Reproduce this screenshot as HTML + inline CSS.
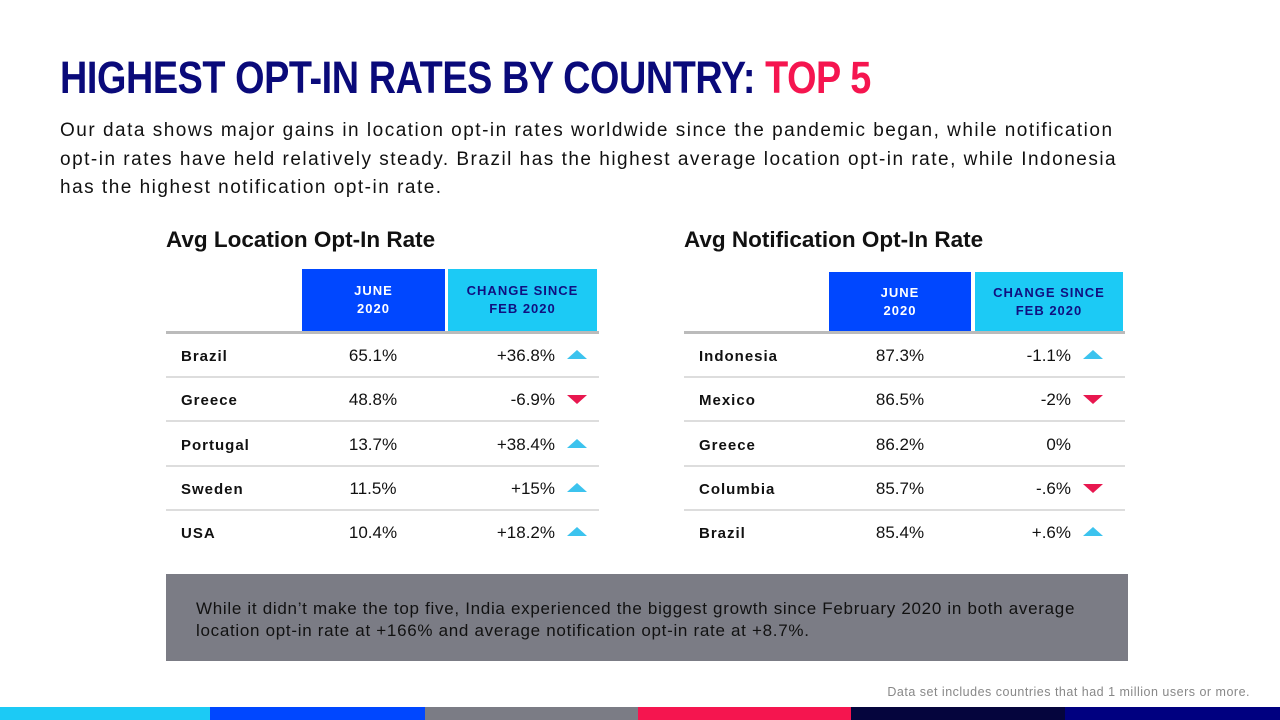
<!DOCTYPE html>
<html><head><meta charset="utf-8"><style>
body{margin:0;width:1280px;height:720px;position:relative;background:#fff;font-family:"Liberation Sans",sans-serif;overflow:hidden}
.a{position:absolute}
h1{position:absolute;left:60px;top:52px;margin:0;font-family:"Liberation Sans",sans-serif;font-weight:bold;font-size:45px;color:#0a0a7a;letter-spacing:-0.5px;white-space:nowrap;transform:scaleX(0.84);transform-origin:0 0}
h1 span{color:#f5154f}
.intro{left:60px;top:117px;width:1200px;font-size:19px;line-height:28.5px;color:#111;letter-spacing:1.5px;white-space:nowrap}
.tt{font-family:"Liberation Sans",sans-serif;font-weight:bold;font-size:22.5px;color:#111;letter-spacing:0px;white-space:nowrap}
.hd{color:#fff;font-size:13px;font-weight:bold;letter-spacing:1px;text-align:center;line-height:18px;display:flex;align-items:center;justify-content:center}
.row{font-size:17px;color:#111}
.cty{font-size:15px;font-weight:bold;letter-spacing:1px}
</style></head><body>
<h1>HIGHEST OPT-IN RATES BY COUNTRY: <span>TOP 5</span></h1>
<div class="a intro">Our data shows major gains in location opt-in rates worldwide since the pandemic began, while notification<br>opt-in rates have held relatively steady. Brazil has the highest average location opt-in rate, while Indonesia<br>has the highest notification opt-in rate.</div>
<div id="tables"></div>
<div class="a" style="left:166px;top:574px;width:962px;height:87px;background:#7b7c85;"><div style="position:absolute;left:30px;top:24px;width:905px;font-size:17px;line-height:22px;color:#111;letter-spacing:0.7px">While it didn’t make the top five, India experienced the biggest growth since February 2020 in both average location opt-in rate at +166% and average notification opt-in rate at +8.7%.</div></div>
<div class="a" style="right:30px;top:685px;font-size:12.5px;color:#888;letter-spacing:0.5px">Data set includes countries that had 1 million users or more.</div>
<div class="a" style="left:0;top:707px;width:1280px;height:13px;display:flex">
<div style="width:210px;background:#1ccaf5"></div><div style="width:215px;background:#0047ff"></div><div style="width:213px;background:#7b7c85"></div><div style="width:213px;background:#f5154f"></div><div style="width:214px;background:#05053d"></div><div style="flex:1;background:#000080"></div></div>
<script>
const locCountries=["Brazil","Greece","Portugal","Sweden","USA"];
const locJune=["65.1%","48.8%","13.7%","11.5%","10.4%"];
const locChange=["+36.8%","-6.9%","+38.4%","+15%","+18.2%"];
const locDir=[1,-1,1,1,1];
const notCountries=["Indonesia","Mexico","Greece","Columbia","Brazil"];
const notJune=["87.3%","86.5%","86.2%","85.7%","85.4%"];
const notChange=["-1.1%","-2%","0%","-.6%","+.6%"];
const notDir=[1,-1,0,-1,1];
const root=document.getElementById('tables');
function el(cls,style,html,parent){const d=document.createElement('div');d.className='a '+cls;d.style.cssText=style;d.innerHTML=html;(parent||root).appendChild(d);return d;}
function table(cfg,cs,js,ch,dir){
  let t=el('tt',`left:${cfg.x}px;top:227px`,cfg.title);
  
  
  let h1=el('hd',`left:${cfg.j0}px;top:${cfg.hy}px;width:${cfg.j1-cfg.j0}px;height:${331-cfg.hy}px;background:#0047ff`,'JUNE<br>2020');
  
  
  let h2=el('hd',`left:${cfg.c0}px;top:${cfg.hy}px;width:${cfg.c1-cfg.c0}px;height:${331-cfg.hy}px;background:#1ccaf5;color:#101080`,'CHANGE SINCE<br>FEB 2020');
  
  
  let hl=el('',`left:${cfg.x}px;top:331px;width:${cfg.w}px;height:3px;background:#bbb`,'');
  
  
  cs.forEach((c,i)=>{
    const cy=355+i*44.3;
    let r=el('row',`left:${cfg.x}px;top:${cy-22}px;width:${cfg.w}px;height:44px`,'');
    
    
    el('cty',`left:15px;top:15px`,c,r);
    el('',`left:${cfg.jc-cfg.x-60}px;width:120px;text-align:center;top:13px`,js[i],r);
    el('',`left:${cfg.ce-cfg.x-120}px;width:120px;text-align:right;top:13px`,ch[i],r);
    if(dir[i]){
      const tri=el('',`left:${cfg.tc-cfg.x-10}px;top:${dir[i]>0?17:18}px;width:0;height:0;border-left:10px solid transparent;border-right:10px solid transparent;`+(dir[i]>0?'border-bottom:9px solid #3cc3ee':'border-top:9px solid #e8174f'),'',r);
      
      
    }
    if(i<cs.length-1){
      const s=el('',`left:0;top:43px;width:${cfg.w}px;height:2px;background:#ddd`,'',r);
      
      
    }
  });
}
table({x:166,w:433,title:'Avg Location Opt-In Rate',hy:269,j0:302,j1:445,c0:448,c1:597,jc:373,ce:555,tc:577},locCountries,locJune,locChange,locDir);
table({x:684,w:441,title:'Avg Notification Opt-In Rate',hy:272,j0:829,j1:971,c0:975,c1:1123,jc:900,ce:1071,tc:1093},notCountries,notJune,notChange,notDir);
</script>
</body></html>
